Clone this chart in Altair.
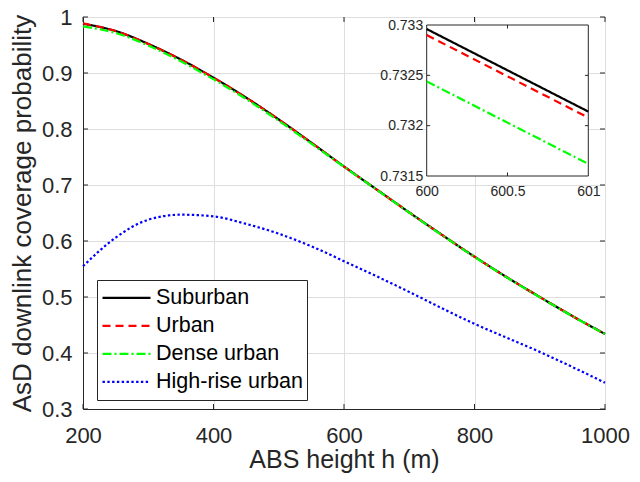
import altair as alt
import pandas as pd

# ---------------- data ----------------
h = [200, 250, 300, 350, 400, 450, 500, 550, 600, 650, 700, 750, 800, 850, 900, 950, 1000]
suburban = [0.988, 0.975, 0.952, 0.924, 0.8917, 0.856, 0.817, 0.7755, 0.733, 0.692, 0.651, 0.611, 0.572, 0.535, 0.500, 0.466, 0.434]
urban = [0.9885, 0.9749, 0.9519, 0.9239, 0.8916, 0.8559, 0.8169, 0.7754, 0.7329, 0.6919, 0.6509, 0.6109, 0.5719, 0.5349, 0.4999, 0.4659, 0.4339]
dense = [0.9833, 0.9714, 0.949, 0.9208, 0.8887, 0.8535, 0.8147, 0.7738, 0.7325, 0.6916, 0.6506, 0.6106, 0.5716, 0.5346, 0.4997, 0.4657, 0.4337]
highrise = [0.555, 0.606, 0.638, 0.647, 0.644, 0.6305, 0.613, 0.5905, 0.564, 0.537, 0.509, 0.480, 0.452, 0.427, 0.402, 0.375, 0.347]

inset_h = [600, 601]
inset_suburban = [0.73296, 0.73214]
inset_urban = [0.73290, 0.73208]
inset_dense = [0.73244, 0.73162]

series_names = ["Suburban", "Urban", "Dense urban", "High-rise urban"]
series_colors = ["#000000", "#ff0000", "#00ff00", "#0000ff"]
series_dashes = [[1, 0], [8, 5], [9, 3, 2, 3], [2.4, 2.4]]
series_widths = [2.2, 2.2, 2.2, 2.6]

x_ticks = [200, 400, 600, 800, 1000]
y_ticks = [0.3, 0.4, 0.5, 0.6, 0.7, 0.8, 0.9, 1.0]
inset_x_ticks = [600, 600.5, 601]
inset_y_ticks = [0.7315, 0.732, 0.7325, 0.733]

# ---------------- layout ----------------
PLOT_W, PLOT_H = 522, 392
INSET_X_RANGE = [343.7, 505.3]
INSET_Y_RANGE = [159, 8]
FONT = "Liberation Sans"
AX = "#262626"

rows = []
for name, vals in zip(series_names, [suburban, urban, dense, highrise]):
    for hv, v in zip(h, vals):
        rows.append({"h": hv, "p": v, "series": name})
main_df = pd.DataFrame(rows)

irows = []
for name, vals in zip(series_names[:3], [inset_suburban, inset_urban, inset_dense]):
    for hv, v in zip(inset_h, vals):
        irows.append({"h": hv, "p": v, "series": name})
inset_df = pd.DataFrame(irows)

color_scale = alt.Scale(domain=series_names, range=series_colors)
dash_scale = alt.Scale(domain=series_names, range=series_dashes)
width_scale = alt.Scale(domain=series_names, range=series_widths)

xs = alt.Scale(domain=[x_ticks[0], x_ticks[-1]], nice=False, zero=False)
ys = alt.Scale(domain=[y_ticks[0], y_ticks[-1]], nice=False, zero=False)

main_lines = alt.Chart(main_df).mark_line(interpolate="monotone").encode(
    x=alt.X("h:Q", scale=xs, axis=alt.Axis(
        values=x_ticks, format="d", title="ABS height h (m)", grid=True, labelFlush=False,
        labelOverlap=False, labelFontSize=22, labelPadding=16, titleFontSize=25,
        titlePadding=1, orient="bottom")),
    y=alt.Y("p:Q", scale=ys, axis=alt.Axis(
        values=y_ticks, format=".1~f", title="AsD downlink coverage probability",
        grid=True, labelOverlap=False, labelFontSize=22, labelPadding=11,
        titleFontSize=26, titlePadding=6, orient="left")),
    color=alt.Color("series:N", scale=color_scale, legend=alt.Legend(title=None)),
    strokeDash=alt.StrokeDash("series:N", scale=dash_scale, legend=alt.Legend(title=None)),
    strokeWidth=alt.StrokeWidth("series:N", scale=width_scale, legend=None),
)


def tick_layer(xv, yv, orient, xoff, yoff, xscale, yscale, size):
    df = pd.DataFrame({"tx": xv, "ty": yv})
    return alt.Chart(df).mark_tick(
        orient=orient, size=size, thickness=1, color=AX, opacity=1,
        xOffset=xoff, yOffset=yoff,
    ).encode(
        x=alt.X("tx:Q", scale=xscale, axis=None),
        y=alt.Y("ty:Q", scale=yscale, axis=None),
    )


main_ticks = [
    tick_layer(x_ticks, [y_ticks[0]] * len(x_ticks), "vertical", 0, -2.5, xs, ys, 5),
    tick_layer(x_ticks, [y_ticks[-1]] * len(x_ticks), "vertical", 0, 2.5, xs, ys, 5),
    tick_layer([x_ticks[0]] * len(y_ticks), y_ticks, "horizontal", 2.5, 0, xs, ys, 5),
    tick_layer([x_ticks[-1]] * len(y_ticks), y_ticks, "horizontal", -2.5, 0, xs, ys, 5),
]

ixs = alt.Scale(domain=[inset_x_ticks[0], inset_x_ticks[-1]], range=INSET_X_RANGE, nice=False, zero=False)
iys = alt.Scale(domain=[inset_y_ticks[0], inset_y_ticks[-1]], range=INSET_Y_RANGE, nice=False, zero=False)

frame_df = pd.DataFrame({"x0": [inset_x_ticks[0]], "x1": [inset_x_ticks[-1]],
                         "y0": [inset_y_ticks[0]], "y1": [inset_y_ticks[-1]]})
inset_frame = alt.Chart(frame_df).mark_rect(fill="white", stroke=AX, strokeWidth=1).encode(
    x=alt.X("x0:Q", scale=ixs, axis=alt.Axis(
        orient="bottom", offset=INSET_Y_RANGE[0] - PLOT_H, values=inset_x_ticks, format=".1~f",
        title=None, grid=False, domain=False, labelFlush=False, labelOverlap=False,
        labelFontSize=14, labelPadding=8, zindex=3)),
    x2="x1:Q",
    y=alt.Y("y0:Q", scale=iys, axis=alt.Axis(
        orient="left", offset=-INSET_X_RANGE[0], values=inset_y_ticks, format=".4~f",
        title=None, grid=False, domain=False, labelOverlap=False,
        labelFontSize=14, labelPadding=4, zindex=3)),
    y2="y1:Q",
)

inset_lines = alt.Chart(inset_df).mark_line(strokeWidth=2.2).encode(
    x=alt.X("h:Q", scale=ixs, axis=None),
    y=alt.Y("p:Q", scale=iys, axis=None),
    color=alt.Color("series:N", scale=color_scale, legend=None),
    strokeDash=alt.StrokeDash("series:N", scale=dash_scale, legend=None),
)

inner_x = inset_x_ticks[1:-1]
inner_y = inset_y_ticks[1:-1]
inset_ticks = [
    tick_layer(inner_x, [inset_y_ticks[0]] * len(inner_x), "vertical", 0, -1.7, ixs, iys, 3.4),
    tick_layer(inner_x, [inset_y_ticks[-1]] * len(inner_x), "vertical", 0, 1.7, ixs, iys, 3.4),
    tick_layer([inset_x_ticks[0]] * len(inner_y), inner_y, "horizontal", 1.7, 0, ixs, iys, 3.4),
    tick_layer([inset_x_ticks[-1]] * len(inner_y), inner_y, "horizontal", -1.7, 0, ixs, iys, 3.4),
]

chart = alt.layer(
    main_lines, *main_ticks, inset_frame, inset_lines, *inset_ticks
).resolve_scale(
    x="independent", y="independent"
).properties(
    width=PLOT_W, height=PLOT_H,
    padding={"left": 75, "top": 9, "right": 27, "bottom": 65},
    autosize=alt.AutoSizeParams(type="none"),
).configure_view(
    stroke=AX, strokeWidth=1
).configure_axis(
    labelFont=FONT, titleFont=FONT, labelColor=AX, titleColor=AX,
    domainColor=AX, gridColor="#dedede", gridWidth=1, ticks=False, tickSize=0,
    titleFontWeight="normal",
).configure_legend(
    orient="none", legendX=14, legendY=263, fillColor="white", strokeColor=AX,
    padding=4, labelFont=FONT, labelFontSize=21.5, labelColor="#000000",
    symbolType="stroke", symbolSize=2304, symbolStrokeWidth=2, clipHeight=27.7,
    rowPadding=0, labelOffset=4, labelLimit=0, symbolOffset=0,
)

chart.save("out.html", embed_options={"renderer": "svg", "actions": False})
